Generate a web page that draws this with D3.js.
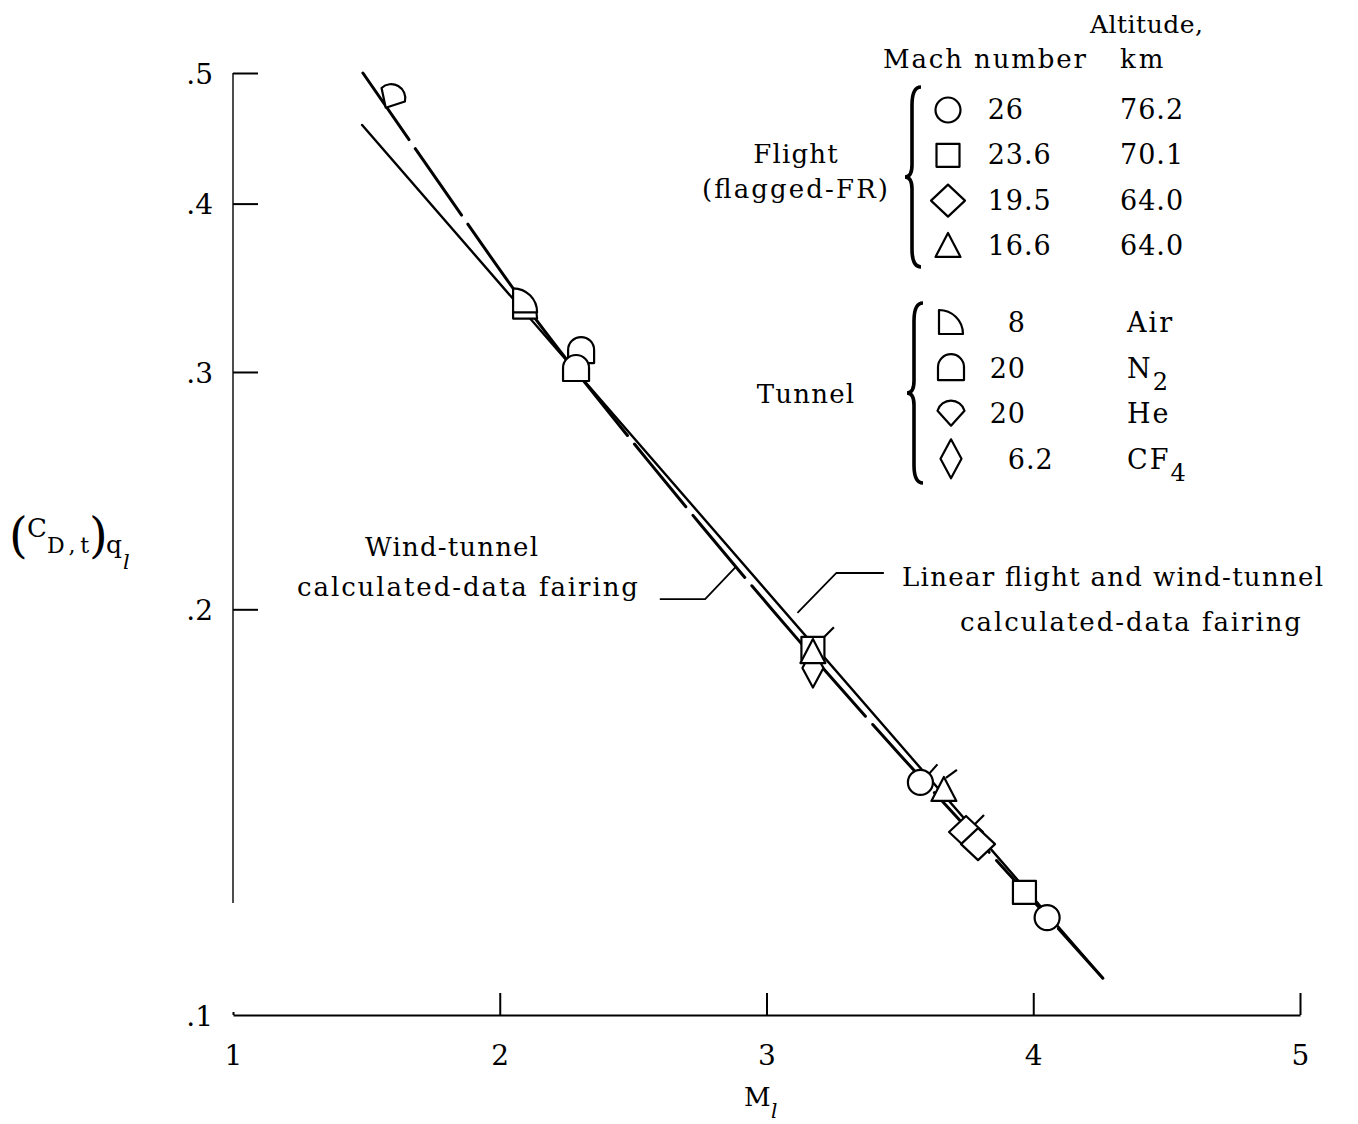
<!DOCTYPE html>
<html><head><meta charset="utf-8">
<script src="https://cdn.jsdelivr.net/npm/d3@7"></script>
<style>
body{margin:0;background:#fff}
text{font-family:"DejaVu Serif",serif;fill:#000}
</style>
</head><body>
<svg id="c" width="1358" height="1124"></svg>
<script>
// ---------- data ----------
const xTicks = [1, 2, 3, 4, 5];
const yTicks = [0.1, 0.2, 0.3, 0.4, 0.5];

// linear flight and wind-tunnel fairing (straight on semilog)
const linearFairingM = [1.484, 4.261];
const linearFairingC = [0.4575, 0.1065];

// wind-tunnel calculated-data fairing (dashed)
const tunnelFairingM = [1.487, 1.776, 2.076, 2.282, 2.751, 3.126, 3.500, 3.875, 4.261];
const tunnelFairingC = [0.500, 0.4135, 0.3405, 0.3010, 0.2314, 0.1891, 0.1560, 0.1294, 0.1065];

// data points
const pointM   = [1.596, 2.095, 2.095, 2.305, 2.286, 3.174, 3.174, 3.174, 3.577, 3.665, 3.748, 3.793, 3.967, 4.052];
const pointC   = [0.480, 0.3355, 0.3391, 0.3112, 0.3018, 0.1809, 0.1871, 0.1859, 0.1488, 0.1469, 0.1367, 0.1339, 0.1233, 0.1181];
const pointSym = ["he", "air", "air", "n2", "n2", "cf4", "square", "triangle", "circle", "triangle", "diamond", "diamond", "square", "circle"];
const pointFlag= [false, false, false, false, false, false, true, false, true, true, true, false, false, false];
const pointRot = [30, 0, 0, 0, 0, 0, 0, 0, 0, 0, 0, 0, 0, 0];

// legend
const flightSym  = ["circle", "square", "diamond", "triangle"];
const flightMach = ["26", "23.6", "19.5", "16.6"];
const flightAlt  = ["76.2", "70.1", "64.0", "64.0"];
const tunnelSym  = ["air", "n2", "he", "cf4"];
const tunnelMach = ["8", "20", "20", "6.2"];
const tunnelGas  = ["Air", "N", "He", "CF"];
const tunnelGasSub = ["", "2", "", "4"];

// ---------- drawing ----------
const svg = d3.select("#c");
const x = d3.scaleLinear().domain([1, 5]).range([233, 1300]);
const y = d3.scaleLog().domain([0.1, 0.5]).range([1015, 73]);

const SYM = {
  circle: "M12.5,0A12.5,12.5 0 1,1 -12.5,0A12.5,12.5 0 1,1 12.5,0Z",
  square: "M-11.5,-11.5H11.5V11.5H-11.5Z",
  diamond: "M0,-16L17,0L0,16L-17,0Z",
  triangle: "M0,-13L12.5,11L-12.5,11Z",
  air: "M-12,-12A24,24 0 0,1 12,12L-12,12Z",
  n2: "M-13,12.5V-0.5A13,13 0 0,1 13,-0.5V12.5Z",
  he: "M0,12.5L-13.5,-2.5A14.1,14.1 0 0,1 13.5,-2.5Z",
  cf4: "M0,-19.5L10.5,0L0,19.5L-10.5,0Z"
};
const FLAG = {
  circle: [9, -9, 17, -18],
  square: [11.5, -11.5, 21, -21],
  diamond: [9, -8, 18, -17],
  triangle: [2, -12, 13, -20]
};

// axes
const gx = svg.append("g").attr("transform", `translate(0,${y(0.1)})`)
  .call(d3.axisBottom(x).tickValues(xTicks).tickSize(-22).tickSizeOuter(0).tickFormat(d3.format("d")));
gx.select(".domain").attr("stroke-width", 2.2);
gx.selectAll(".tick line").attr("stroke-width", 2).attr("y2", d => d === 1 ? -3 : -22);
gx.selectAll(".tick text").attr("y", 50).attr("dy", 0)
  .attr("font-size", 28).attr("font-family", "DejaVu Serif");

const gy = svg.append("g").attr("transform", `translate(${x(1)},0)`)
  .call(d3.axisLeft(y).tickValues(yTicks).tickSize(-25).tickPadding(20)
    .tickFormat(d => d3.format(".1f")(d).replace(/^0/, "")));
gy.select(".domain").remove();
gy.selectAll(".tick line").attr("stroke-width", 2).attr("display", d => d === 0.1 ? "none" : null);
gy.selectAll(".tick text").attr("font-size", 28).attr("font-family", "DejaVu Serif").attr("dy", "0.36em");
svg.append("line").attr("x1", x(1)).attr("x2", x(1)).attr("y1", y(0.5)).attr("y2", y(0.1211))
  .attr("stroke", "#000").attr("stroke-width", 1.4);

// fairings
const lineGen = d3.line().x(d => x(d[0])).y(d => y(d[1]));
svg.append("path").datum(d3.zip(linearFairingM, linearFairingC))
  .attr("d", lineGen).attr("fill", "none").attr("stroke", "#000")
  .attr("stroke-width", 2.4).attr("stroke-linecap", "round");
svg.append("path").datum(d3.zip(tunnelFairingM, tunnelFairingC))
  .attr("d", d3.line().x(d => x(d[0])).y(d => y(d[1])).curve(d3.curveCatmullRom))
  .attr("fill", "none").attr("stroke", "#000").attr("stroke-width", 3)
  .attr("stroke-dasharray", "81 11").attr("stroke-linecap", "round");

// markers
function drawMarker(g, sym, cx, cy, rot, flag) {
  const m = g.append("g").attr("transform", `translate(${cx},${cy}) rotate(${rot})`);
  m.append("path").attr("d", SYM[sym]).attr("fill", "#fff").attr("stroke", "#000")
    .attr("stroke-width", 2.2).attr("stroke-linejoin", "round");
  if (flag && FLAG[sym]) {
    const f = FLAG[sym];
    m.append("line").attr("x1", f[0]).attr("y1", f[1]).attr("x2", f[2]).attr("y2", f[3])
      .attr("stroke", "#000").attr("stroke-width", 2.2);
  }
}
const gp = svg.append("g");
pointM.forEach((m, i) => drawMarker(gp, pointSym[i], x(m), y(pointC[i]), pointRot[i], pointFlag[i]));

// leader lines (data coordinates)
const leaderWT = [[2.600, 0.2035], [2.770, 0.2035], [2.885, 0.2150]];
const leaderLin = [[3.116, 0.1988], [3.262, 0.2128], [3.440, 0.2128]];
[leaderWT, leaderLin].forEach(L => svg.append("path").datum(L).attr("d", lineGen)
  .attr("fill", "none").attr("stroke", "#000").attr("stroke-width", 1.8));

// annotation text
function txt(s, tx, ty, size, opts = {}) {
  const t = svg.append("text").attr("x", tx).attr("y", ty).attr("font-size", size).text(s);
  if (opts.len) t.attr("textLength", opts.len).attr("lengthAdjust", "spacing");
  if (opts.anchor) t.attr("text-anchor", opts.anchor);
  if (opts.italic) t.attr("font-style", "italic");
  if (opts.ls !== undefined) t.attr("letter-spacing", opts.ls);
  return t;
}
txt("Wind-tunnel", 365, 556, 26, {len: 173});
txt("calculated-data fairing", 297, 596, 26, {len: 341});
txt("Linear flight and wind-tunnel", 902, 586, 26, {len: 421});
txt("calculated-data fairing", 960, 631, 26, {len: 341});

// legend headers
txt("Altitude,", 1090, 33, 25, {ls: 0.5});
txt("Mach number", 883, 68, 26, {len: 203});
txt("km", 1120, 68, 26, {ls: 3});

function brace(x0, yt, yb) {
  const ym = (yt + yb) / 2, xr = x0 + 16, xm = x0 + 7, xl = x0;
  svg.append("path")
    .attr("d", `M${xr},${yt} Q${xm},${yt} ${xm},${yt + 18} L${xm},${ym - 12} Q${xm},${ym} ${xl},${ym} Q${xm},${ym} ${xm},${ym + 12} L${xm},${yb - 18} Q${xm},${yb} ${xr},${yb}`)
    .attr("fill", "none").attr("stroke", "#000").attr("stroke-width", 3.6);
}
brace(905, 87, 267);
brace(907, 303, 483);

txt("Flight", 796, 163, 26, {anchor: "middle", ls: 1.2});
txt("(flagged-FR)", 702, 198, 26, {len: 186});
txt("Tunnel", 806, 403, 26, {anchor: "middle", ls: 1.2});

const gl = svg.append("g");
function machText(s, bx, by) {
  const p = s.split(".");
  txt(p[0], bx, by, 27, {anchor: "end", ls: 1});
  if (p.length > 1) txt("." + p[1], bx, by, 27, {ls: 1});
}
flightSym.forEach((s, i) => {
  const cy = 110 + i * 45.3;
  drawMarker(gl, s, 948, cy, 0, false);
  machText(flightMach[i], 1024, cy + 9);
  txt(flightAlt[i], 1120, cy + 9, 27, {ls: 1});
});
tunnelSym.forEach((s, i) => {
  const cy = 322 + i * 45.6;
  drawMarker(gl, s, 951, cy, 0, false);
  machText(tunnelMach[i], 1026, cy + 10);
  const t = txt(tunnelGas[i], 1127, cy + 10, 27, {ls: 2});
  if (tunnelGasSub[i]) t.append("tspan").attr("dy", 12).attr("font-size", 24).text(tunnelGasSub[i]);
});

// axis titles
txt("(", 9, 552, 48);
txt("C", 27, 537, 26);
txt("D,t", 47, 553, 22, {len: 42});
txt(")", 89, 552, 48);
txt("q", 106, 553, 25);
txt("l", 123, 569, 21, {italic: true});

txt("M", 744, 1106, 26);
txt("l", 771, 1118, 20, {italic: true});
</script>
</body></html>
